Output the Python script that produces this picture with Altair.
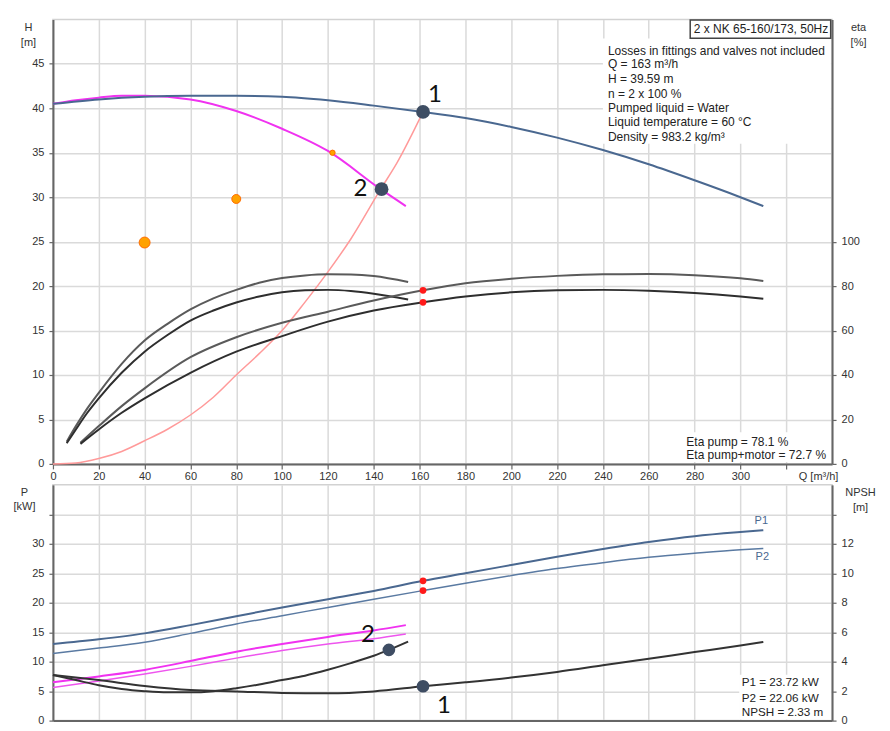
import altair as alt
import pandas as pd

# ---------------- data ----------------
GRID_Q = list(range(0, 321, 20))

# Upper panel - Q/H curves
Q_H2 = [0, 20, 40, 60, 80, 100, 120, 140, 161.5, 180, 200, 220, 240, 260, 280, 300, 310]
H_H2 = [40.5, 41.0, 41.3, 41.4, 41.4, 41.3, 40.9, 40.3, 39.59, 38.9, 37.9, 36.7, 35.3, 33.7, 31.9, 30.0, 29.0]
Q_H1 = [0, 10, 20, 30, 40, 60, 80, 100, 120, 143, 154]
H_H1 = [40.5, 40.9, 41.2, 41.4, 41.4, 41.0, 39.7, 37.7, 35.2, 30.9, 29.0]
Q_SYS = [0, 10, 20, 30, 40, 50, 60, 70, 80, 90, 100, 110, 120, 130, 143, 150, 161.5]
H_SYS = [0, 0.1, 0.6, 1.4, 2.6, 3.9, 5.5, 7.5, 10.0, 12.4, 15.0, 18.2, 21.6, 25.3, 30.9, 33.8, 39.59]
Q_ORANGE = [40, 80, 122]
H_ORANGE = [24.9, 29.8, 35.0]
OP_Q = [161.5, 143.4]
OP_H = [39.59, 30.9]
OP_LABEL = ["1", "2"]

# Upper panel - efficiency curves (single pump)
Q_E1 = [6, 10, 15, 20, 30, 40, 50, 60, 70, 80, 90, 100, 110, 120, 130, 140, 155]
ETA_P1 = [10, 17, 25, 32, 45, 55.5, 63, 69.5, 74.5, 78.3, 81.5, 83.6, 84.8, 85.3, 85.2, 84.5, 81.8]
ETA_PM1 = [9.3, 15.5, 23, 29.5, 41, 50.5, 58, 64.5, 69, 72.6, 75.3, 77.2, 78.1, 78.3, 77.8, 76.6, 74.0]
# efficiency curves (two pumps)
Q_E2 = [12, 20, 30, 40, 60, 80, 100, 120, 140, 161.5, 180, 200, 220, 240, 260, 280, 300, 310]
ETA_P2 = [9.5, 17, 26, 34, 48, 57, 63.5, 68.5, 73.5, 78.1, 81.3, 83.3, 84.6, 85.3, 85.4, 84.9, 83.5, 82.3]
ETA_PM2 = [9.0, 15.5, 23, 29.5, 41, 50.5, 57.5, 64, 69, 72.7, 75.3, 77.2, 78.1, 78.3, 77.9, 76.9, 75.3, 74.3]
DUTY_Q = [161.5, 161.5]
DUTY_ETA = [78.1, 72.7]

# Lower panel - power
Q_P2X = [0, 20, 40, 60, 80, 100, 120, 140, 161.5, 180, 200, 220, 240, 260, 280, 300, 310]
P1_2X = [13.0, 13.8, 14.8, 16.2, 17.7, 19.2, 20.6, 22.0, 23.72, 25.0, 26.4, 27.8, 29.1, 30.3, 31.3, 32.0, 32.3]
P2_2X = [11.4, 12.3, 13.3, 14.8, 16.4, 17.8, 19.2, 20.6, 22.06, 23.3, 24.6, 25.8, 26.8, 27.7, 28.4, 29.0, 29.2]
Q_P1X = [0, 20, 40, 60, 80, 100, 120, 140, 154]
P1_1X = [6.5, 7.5, 8.6, 10.1, 11.7, 13.0, 14.2, 15.3, 16.2]
P2_1X = [5.6, 6.7, 7.9, 9.2, 10.6, 11.9, 13.0, 13.9, 14.7]
DUTY_P = [23.72, 22.06]

# Lower panel - NPSH
Q_N1 = [0, 20, 40, 60, 80, 100, 120, 140, 161.5, 180, 200, 220, 240, 260, 280, 300, 310]
NPSH_1 = [3.1, 2.75, 2.35, 2.07, 1.98, 1.88, 1.85, 1.98, 2.33, 2.6, 2.92, 3.3, 3.75, 4.2, 4.65, 5.1, 5.34]
Q_N2 = [0, 10, 20, 30, 40, 50, 60, 70, 80, 90, 100, 110, 120, 130, 140, 146.6, 155]
NPSH_2 = [3.1, 2.75, 2.4, 2.15, 2.0, 1.92, 1.92, 2.0, 2.2, 2.45, 2.75, 3.05, 3.45, 3.9, 4.4, 4.8, 5.36]
NOP_Q = [161.5, 146.6]
NOP_N = [2.33, 4.8]

INFO_LINES = ["Losses in fittings and valves not included", "Q = 163 m³/h", "H = 39.59 m",
              "n = 2 x 100 %", "Pumped liquid = Water", "Liquid temperature = 60 °C",
              "Density = 983.2 kg/m³"]
INFO_H = [46.45, 44.95, 43.31, 41.66, 40.01, 38.44, 36.80]
ETA_LINES = ["Eta pump = 78.1 %", "Eta pump+motor = 72.7 %"]
ETA_LINES_H = [2.5, 0.98]
P_LINES = ["P1 = 23.72 kW", "P2 = 22.06 kW", "NPSH = 2.33 m"]
P_LINES_P = [6.48, 3.78, 1.40]

# ---------------- styles ----------------
FONT = "Liberation Sans"
BLUE = "#4a6890"
MAGENTA = "#f032f0"
PINK = "#ff9a9a"
DARK = "#3e4d63"

XSCALE = alt.Scale(domain=[0, 340], nice=False, zero=False)
AX_QU = alt.Axis(values=GRID_Q, labelExpr="datum.value == 320 ? '' : datum.label", grid=True,
                 title="Q [m³/h]", titleX=766, titleY=7, titleBaseline="top", titleAlign="center",
                 tickSize=5, labelPadding=2, labelFlush=False)
AX_QL = alt.Axis(values=GRID_Q, grid=True, labels=False, ticks=False, title=None)

AX_H = alt.Axis(values=list(range(0, 46, 5)), grid=True, orient="left", title=["H", "[m]"],
                titleAngle=0, titleX=-25, titleY=2, titleAlign="center", titleBaseline="top",
                titleLineHeight=15, tickSize=4, labelPadding=5)
AX_ETA = alt.Axis(values=list(range(0, 101, 20)), grid=False, orient="right", title=["eta", "[%]"],
                  titleAngle=0, titleX=26, titleY=2, titleAlign="center", titleBaseline="top",
                  titleLineHeight=15, tickSize=4, labelPadding=5)
AX_P = alt.Axis(values=list(range(0, 36, 5)), labelExpr="datum.value == 35 ? '' : datum.label",
                grid=True, orient="left", title=["P", "[kW]"], titleAngle=0, titleX=-29, titleY=2,
                titleAlign="center", titleBaseline="top", titleLineHeight=14, tickSize=4, labelPadding=5)
AX_N = alt.Axis(values=list(range(0, 15, 2)), labelExpr="datum.value == 14 ? '' : datum.label",
                grid=False, orient="right", title=["NPSH", "[m]"], titleAngle=0, titleX=28, titleY=2,
                titleAlign="center", titleBaseline="top", titleLineHeight=15, tickSize=4, labelPadding=5)

XU = alt.X("Q:Q", scale=XSCALE, axis=AX_QU)
XL = alt.X("Q:Q", scale=XSCALE, axis=AX_QL)
YH = alt.Y("H:Q", scale=alt.Scale(domain=[0, 50], nice=False), axis=AX_H)
YE = alt.Y("E:Q", scale=alt.Scale(domain=[0, 200], nice=False), axis=AX_ETA)
YP = alt.Y("P:Q", scale=alt.Scale(domain=[0, 40], nice=False), axis=AX_P)
YN = alt.Y("N:Q", scale=alt.Scale(domain=[0, 16], nice=False), axis=AX_N)


def df(q, col, vals):
    return pd.DataFrame({"Q": q, col: vals})


def line(data, x, y, color, width):
    return alt.Chart(data).mark_line(color=color, strokeWidth=width, interpolate="monotone").encode(x=x, y=y)


def pts(data, x, y, color, size, stroke=None):
    kw = dict(filled=True, color=color, size=size, opacity=1)
    if stroke:
        kw.update(stroke=stroke, strokeWidth=1)
    return alt.Chart(data).mark_circle(**kw).encode(x=x, y=y)


def txt(data, x, y, size, color="#222", align="left", font=FONT, dx=0, dy=0):
    return (alt.Chart(data)
            .mark_text(font=font, fontSize=size, color=color, align=align, baseline="middle", dx=dx, dy=dy)
            .encode(x=x, y=y, text="t:N"))


# ---------------- upper panel ----------------
up_h = []
up_h.append(alt.Chart(pd.DataFrame({"Q": [240], "Q2": [339.5], "H": [36.0], "H2": [47.85]}))
            .mark_rect(color="white").encode(x=XU, x2="Q2", y=YH, y2="H2"))
up_h.append(alt.Chart(pd.DataFrame({"Q": [275], "Q2": [339.5], "H": [0.2], "H2": [3.56]}))
            .mark_rect(color="white").encode(x=XU, x2="Q2", y=YH, y2="H2"))
up_h.append(alt.Chart(pd.DataFrame({"Q": [278.1], "Q2": [339.4], "H": [47.88], "H2": [49.94]}))
            .mark_rect(fill="white", stroke="#444", strokeWidth=1.5).encode(x=XU, x2="Q2", y=YH, y2="H2"))
up_h.append(txt(pd.DataFrame({"Q": [309.0], "H": [48.92], "t": ["2 x NK 65-160/173, 50Hz"]}),
                XU, YH, 12, align="center"))
up_h.append(txt(pd.DataFrame({"Q": [242.2] * len(INFO_LINES), "H": INFO_H, "t": INFO_LINES}), XU, YH, 12))
up_h.append(txt(pd.DataFrame({"Q": [276.4] * 2, "H": ETA_LINES_H, "t": ETA_LINES}), XU, YH, 12))
up_h.append(line(df(Q_SYS, "H", H_SYS), XU, YH, PINK, 1.5))
up_h.append(line(df(Q_H1, "H", H_H1), XU, YH, MAGENTA, 2))
up_h.append(line(df(Q_H2, "H", H_H2), XU, YH, BLUE, 2))
for q, h, s in zip(Q_ORANGE, H_ORANGE, [120, 80, 28]):
    up_h.append(pts(df([q], "H", [h]), XU, YH, "#ffa200", s, stroke="#ff6a00"))
up_h.append(pts(df(OP_Q, "H", OP_H), XU, YH, DARK, 190))
lab = pd.DataFrame({"Q": OP_Q, "H": OP_H, "t": OP_LABEL})
up_h.append(txt(lab.iloc[[0]], XU, YH, 24, color="#111", align="center", font="Lato", dx=12, dy=-17))
up_h.append(txt(lab.iloc[[1]], XU, YH, 24, color="#111", align="center", font="Lato", dx=-21, dy=0))
upper_h = alt.layer(*up_h)

up_e = [
    line(df(Q_E1, "E", ETA_P1), XU, YE, "#5a5a5a", 2),
    line(df(Q_E1, "E", ETA_PM1), XU, YE, "#2e2e2e", 2),
    line(df(Q_E2, "E", ETA_P2), XU, YE, "#5a5a5a", 2),
    line(df(Q_E2, "E", ETA_PM2), XU, YE, "#2e2e2e", 2),
    pts(df(DUTY_Q, "E", DUTY_ETA), XU, YE, "#ff1a1a", 45),
]
upper_e = alt.layer(*up_e)

upper = alt.layer(upper_h, upper_e).resolve_scale(y="independent").properties(width=780, height=445)

# ---------------- lower panel ----------------
lo_p = []
lo_p.append(alt.Chart(pd.DataFrame({"Q": [299.5], "Q2": [339.5], "P": [0.2], "P2": [7.8]}))
            .mark_rect(color="white").encode(x=XL, x2="Q2", y=YP, y2="P2"))
lo_p.append(txt(pd.DataFrame({"Q": [300.6] * 3, "P": P_LINES_P, "t": P_LINES}), XL, YP, 11.7))
lo_p.append(line(df(Q_P1X, "P", P2_1X), XL, YP, "#ee55ee", 1.5))
lo_p.append(line(df(Q_P1X, "P", P1_1X), XL, YP, MAGENTA, 2))
lo_p.append(line(df(Q_P2X, "P", P2_2X), XL, YP, "#5a7aa2", 1.5))
lo_p.append(line(df(Q_P2X, "P", P1_2X), XL, YP, BLUE, 2))
lo_p.append(pts(df(DUTY_Q, "P", DUTY_P), XL, YP, "#ff1a1a", 45))
lo_p.append(txt(pd.DataFrame({"Q": [Q_P2X[-1]], "P": [P1_2X[-1]], "t": ["P1"]}), XL, YP, 11,
                color=BLUE, align="center", dx=-2, dy=-9))
lo_p.append(txt(pd.DataFrame({"Q": [Q_P2X[-1]], "P": [P2_2X[-1]], "t": ["P2"]}), XL, YP, 11,
                color=BLUE, align="center", dx=-1, dy=8))
lower_p = alt.layer(*lo_p)

nl = pd.DataFrame({"Q": NOP_Q, "N": NOP_N, "t": OP_LABEL})
lo_n = [
    line(df(Q_N2, "N", NPSH_2), XL, YN, "#333", 2),
    line(df(Q_N1, "N", NPSH_1), XL, YN, "#333", 2),
    pts(df(NOP_Q, "N", NOP_N), XL, YN, DARK, 160),
    txt(nl.iloc[[0]], XL, YN, 24, color="#111", align="center", font="Lato", dx=21, dy=20),
    txt(nl.iloc[[1]], XL, YN, 24, color="#111", align="center", font="Lato", dx=-21, dy=-15),
]
lower_n = alt.layer(*lo_n)

lower = alt.layer(lower_p, lower_n).resolve_scale(y="independent").properties(width=780, height=236)

chart = (
    alt.vconcat(upper, lower, spacing=21, bounds="flush")
    .properties(padding={"left": 4, "top": 10, "right": 5, "bottom": 5}, background="white")
    .configure_view(stroke="#d2d2d2", strokeWidth=1.5)
    .configure_axis(domainColor="#666", domainWidth=2, tickColor="#666", tickWidth=1.2,
                    gridColor="#dadada", gridWidth=1.5, labelColor="#333", labelFontSize=11,
                    labelFont=FONT, titleFont=FONT, titleFontSize=11, titleFontWeight="normal",
                    titleColor="#333")
)

chart.save("out.html", embed_options={"renderer": "svg", "actions": False})
